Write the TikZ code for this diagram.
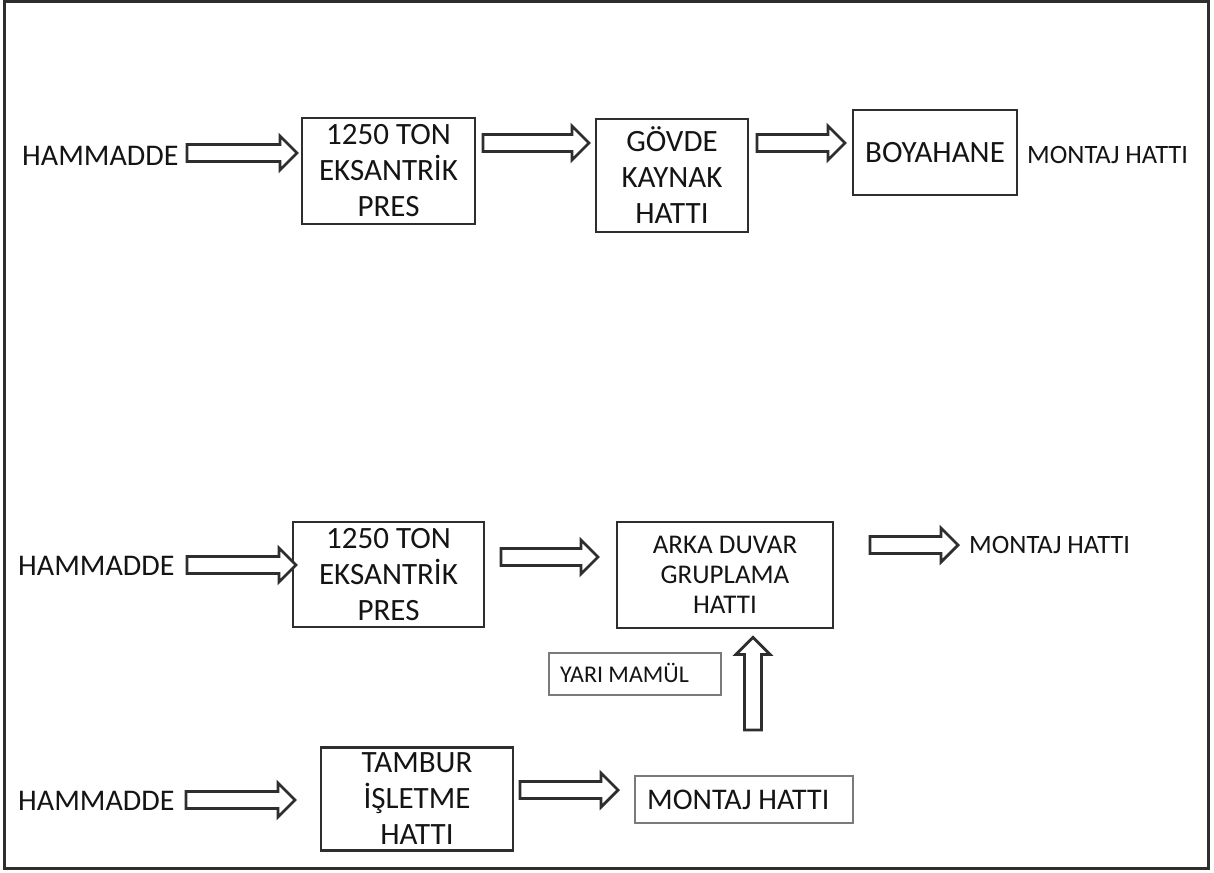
\documentclass[tikz,border=0pt]{standalone}
\usepackage{fontspec}
\setmainfont{Carlito}
\usetikzlibrary{calc}

\definecolor{ink}{HTML}{141414}
\definecolor{edge}{HTML}{2E2E2E}
\definecolor{thinedge}{HTML}{7A7A7A}

% half width of an arrow shaft, half width of its head, length of its head
\newcommand\arrshaft{8.5pt}
\newcommand\arrhead{17pt}
\newcommand\arrlen{17pt}

% hollow block arrow pointing right, from #1 (tail) to #2 (tip)
\newcommand\rightflow[2]{%
  \draw[blockarrow] let \p1=(#1), \p2=(#2) in
    (\x1,\y1+\arrshaft) -- (\x2-\arrlen,\y1+\arrshaft) -- (\x2-\arrlen,\y1+\arrhead)
    -- (\x2,\y1) -- (\x2-\arrlen,\y1-\arrhead) -- (\x2-\arrlen,\y1-\arrshaft)
    -- (\x1,\y1-\arrshaft) -- cycle;}
% hollow block arrow pointing up, from #1 (tail) to #2 (tip)
\newcommand\upflow[2]{%
  \draw[blockarrow] let \p1=(#1), \p2=(#2) in
    (\x1-\arrshaft,\y1) -- (\x1-\arrshaft,\y2-\arrlen) -- (\x1-\arrhead,\y2-\arrlen)
    -- (\x1,\y2) -- (\x1+\arrhead,\y2-\arrlen) -- (\x1+\arrshaft,\y2-\arrlen)
    -- (\x1+\arrshaft,\y1) -- cycle;}

\tikzset{
  stage/.style={draw=edge, line width=2.8pt, align=center, inner sep=0pt,
    text=ink, font=\fontsize{31}{36}\selectfont},
  smallstage/.style={stage, font=\fontsize{27}{30}\selectfont},
  tag/.style={draw=thinedge, line width=1.2pt, inner sep=0pt},
  word/.style={inner sep=0pt, anchor=base west, text=ink, font=\fontsize{30}{36}\selectfont},
  smallword/.style={word, font=\fontsize{26.5}{30}\selectfont},
  blockarrow/.style={draw=edge, line width=2.8pt, line join=miter, fill=white},
}

\begin{document}
\begin{tikzpicture}[x=1pt, y=-1pt]
  \useasboundingbox (0,0) rectangle (1214,872);
  \draw[edge, line width=3pt] (4,2) rectangle (1208,868);

  % first line: press, body welding, paint shop
  \node[word] (ham1) at (22,165) {HAMMADDE};
  \node[stage, minimum width=173pt, minimum height=106pt] (press1) at (388.5,171) {1250 TON\\EKSANTRİK\\PRES};
  \node[stage, minimum width=152pt, minimum height=113pt] (weld) at (672,175.5) {GÖVDE\\KAYNAK\\HATTI};
  \node[stage, minimum width=164pt, minimum height=85pt] (paint) at (935,152.5) {BOYAHANE};
  \node[smallword] (asm1) at (1027,163.5) {MONTAJ HATTI};

  \coordinate (a1s) at (187,153);  \coordinate (a1e) at (297,153);
  \coordinate (a2s) at (483,143);  \coordinate (a2e) at (589,143);
  \coordinate (a3s) at (757,143);  \coordinate (a3e) at (845,143);
  \rightflow{a1s}{a1e}
  \rightflow{a2s}{a2e}
  \rightflow{a3s}{a3e}

  % second line: press, back wall grouping
  \node[word] (ham2) at (18,575) {HAMMADDE};
  \node[stage, minimum width=191pt, minimum height=105pt] (press2) at (388.5,574.5) {1250 TON\\EKSANTRİK\\PRES};
  \node[smallstage, minimum width=216pt, minimum height=106pt] (wall) at (725,575) {ARKA DUVAR\\GRUPLAMA\\HATTI};
  \node[smallword] (asm2) at (969,553.5) {MONTAJ HATTI};

  \coordinate (b1s) at (187,565);  \coordinate (b1e) at (296,565);
  \coordinate (b2s) at (501,557);  \coordinate (b2e) at (598,557);
  \coordinate (b3s) at (870,545);  \coordinate (b3e) at (958,545);
  \rightflow{b1s}{b1e}
  \rightflow{b2s}{b2e}
  \rightflow{b3s}{b3e}

  % semi-finished parts feeding the grouping line
  \node[tag, minimum width=172pt, minimum height=42pt] (semi) at (635,674) {};
  \node[inner sep=0pt, anchor=base west, text=ink, font=\fontsize{24}{28}\selectfont]
        (semitext) at (560,682) {YARI MAMÜL};
  \coordinate (ups) at (753,730);
  \coordinate (upe) at ([yshift=-8pt]wall.south -| ups);
  \upflow{ups}{upe}

  % third line: drum operation
  \node[word] (ham3) at (18,810) {HAMMADDE};
  \node[stage, minimum width=192pt, minimum height=103pt] (drum) at (417,799) {TAMBUR\\İŞLETME\\HATTI};
  \node[tag, minimum width=218pt, minimum height=47pt] (asm3) at (744,799.5) {};
  \node[inner sep=0pt, anchor=base west, text=ink, font=\fontsize{30}{35}\selectfont]
        (asm3text) at (647,809.5) {MONTAJ HATTI};

  \coordinate (c1s) at (186,800);  \coordinate (c1e) at (295,800);
  \coordinate (c2s) at (520,790);  \coordinate (c2e) at (618,790);
  \rightflow{c1s}{c1e}
  \rightflow{c2s}{c2e}
\end{tikzpicture}
\end{document}
